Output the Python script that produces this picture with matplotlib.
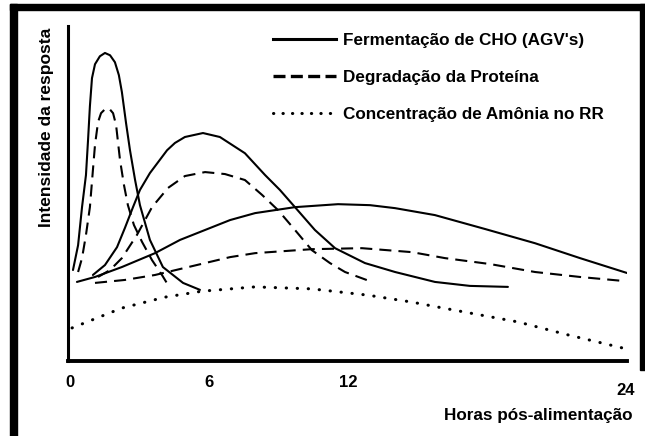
import matplotlib
matplotlib.use('Agg')
import matplotlib.pyplot as plt
import matplotlib.transforms as mtransforms
from matplotlib.lines import Line2D
from matplotlib.patches import Rectangle

plt.rcParams['font.family'] = ['Liberation Sans', 'DejaVu Sans']
plt.rcParams['font.weight'] = 'bold'

# horas pós-alimentação (x) e intensidade relativa (y)
cho_rapido_x = [0.13, 0.35, 0.52, 0.69, 0.78, 0.86, 0.95, 1.08, 1.29, 1.51, 1.73, 1.94,
                2.11, 2.24, 2.42, 2.59, 2.81, 3.02, 3.45, 4.01, 4.88, 5.61]
cho_rapido_y = [27.5, 35.0, 46.5, 56.2, 66.8, 77.0, 85.5, 89.7, 92.1, 93.1, 92.4, 90.3,
                86.4, 81.3, 71.9, 63.7, 54.7, 47.1, 36.6, 28.4, 23.6, 21.5]

prot_rapida_x = [0.35, 0.52, 0.69, 0.86, 0.99, 1.08, 1.21, 1.34, 1.51, 1.68, 1.86, 1.99,
                 2.16, 2.33, 2.50, 2.76, 3.11, 3.54, 3.97, 4.23]
prot_rapida_y = [26.9, 31.1, 38.1, 46.5, 57.7, 65.3, 72.2, 74.9, 76.1, 76.4, 74.9, 71.3,
                 60.7, 53.2, 47.1, 41.1, 36.0, 30.5, 26.0, 23.0]

cho_medio_x = [0.99, 1.51, 2.03, 2.37, 2.72, 3.02, 3.45, 4.19, 4.53, 4.96, 5.74, 6.47,
               7.55, 8.42, 9.06, 9.71, 10.57, 11.44, 12.73, 14.03, 15.75, 17.26, 18.90]
cho_medio_y = [26.0, 29.0, 34.4, 40.2, 46.5, 51.7, 56.8, 63.7, 65.9, 67.7, 68.9, 67.7,
               62.8, 56.2, 51.7, 46.5, 39.6, 34.1, 29.6, 26.9, 23.9, 22.7, 22.4]

prot_media_x = [1.21, 1.73, 2.24, 2.89, 3.54, 4.23, 4.96, 5.83, 6.69, 7.55, 8.29, 8.98,
                9.71, 10.44, 11.22, 11.87, 13.03]
prot_media_y = [25.4, 27.5, 31.1, 38.1, 46.5, 52.3, 55.9, 57.1, 56.5, 54.7, 50.2, 45.6,
                39.6, 33.5, 29.6, 26.9, 23.9]

cho_lento_x = [0.30, 1.08, 2.24, 3.67, 4.75, 5.83, 6.91, 7.99, 9.71, 11.57, 12.95, 14.03,
               15.75, 17.91, 20.07, 22.01, 24.04]
cho_lento_y = [23.9, 25.4, 28.4, 32.6, 36.6, 39.6, 42.6, 44.7, 46.5, 47.4, 47.1, 46.2,
               44.1, 39.9, 35.6, 31.1, 26.6]

prot_lenta_x = [1.08, 2.37, 3.67, 4.75, 5.83, 6.91, 7.99, 10.44, 12.60, 14.76, 16.18,
                18.13, 20.07, 22.01, 23.87]
prot_lenta_y = [23.6, 24.5, 26.0, 27.8, 29.6, 31.4, 32.6, 33.8, 34.1, 32.9, 31.1,
                29.3, 26.9, 25.4, 24.2]

amonia_x = [0.09, 2.24, 4.10, 5.70, 7.98, 10.44, 12.86, 14.76, 15.88, 17.26, 19.34,
            21.49, 23.87]
amonia_y = [10.0, 16.0, 19.3, 21.1, 22.4, 21.8, 19.9, 17.8, 16.3, 14.5, 11.8, 7.9, 3.9]

xticks = [0, 6, 12, 24]
legend_labels = ["Fermentação de CHO (AGV's)", 'Degradação da Proteína',
                 'Concentração de Amônia no RR']

fig = plt.figure(figsize=(6.45, 4.36), dpi=100)
ax = fig.add_axes([0.1054, 0.172, 0.8667, 0.768])

solido = dict(color='black', lw=1.5, solid_capstyle='round', solid_joinstyle='round')
tracejado = dict(color='black', lw=1.5, linestyle=(0, (5.8, 3.4)))
pontilhado = dict(color='black', lw=2.2, linestyle=(0, (0.1, 3.5)), dash_capstyle='round')

ax.plot(cho_rapido_x, cho_rapido_y, **solido)
ax.plot(cho_medio_x, cho_medio_y, **solido)
ax.plot(cho_lento_x, cho_lento_y, **solido)
ax.plot(prot_rapida_x, prot_rapida_y, **tracejado)
ax.plot(prot_media_x, prot_media_y, **tracejado)
ax.plot(prot_lenta_x, prot_lenta_y, **tracejado)
ax.plot(amonia_x, amonia_y, **pontilhado)

ax.set_xlim(-0.086, 24.04)
ax.set_ylim(0, 101.2)
for s in ['top', 'right']:
    ax.spines[s].set_visible(False)
ax.spines['left'].set_linewidth(2.2)
ax.spines['bottom'].set_linewidth(2.8)
ax.set_yticks([])
ax.set_xticks(xticks)
ax.set_xticklabels([str(t) for t in xticks], fontsize=12, fontweight='bold')
ax.tick_params(axis='x', length=0, pad=10)
lab24 = ax.get_xticklabels()[-1]
lab24.set_transform(lab24.get_transform() +
                    mtransforms.ScaledTranslation(0.0, -0.085, fig.dpi_scale_trans))

# legenda
handles = [
    Line2D([], [], color='black', lw=2.2),
    Line2D([], [], color='black', lw=2.4, linestyle=(0, (3.6, 1.6))),
    Line2D([], [], color='black', lw=2.2, linestyle=(0, (0.1, 3.0)), dash_capstyle='round'),
]
fig.legend(handles, legend_labels, loc='upper left',
           bbox_to_anchor=(273 / 645, 1 - 33 / 436), frameon=False,
           prop=dict(size=12.3, weight='bold'), handlelength=3.7, handletextpad=0.4,
           labelspacing=1.3, borderpad=0, borderaxespad=0)

fig.text(47 / 645, 1 - 127 / 436, 'Intensidade da resposta', rotation=90,
         ha='center', va='center', fontsize=12.5, fontweight='bold')
fig.text(632 / 645, 1 - 415 / 436, 'Horas pós-alimentação',
         ha='right', va='center', fontsize=12.3, fontweight='bold')

# moldura preta da figura original
fig.patches.append(Rectangle((10 / 645, 0), 7 / 645, 1 - 4 / 436,
                             transform=fig.transFigure, color='black'))
fig.patches.append(Rectangle((10 / 645, 1 - 10 / 436), 635 / 645, 6 / 436,
                             transform=fig.transFigure, color='black'))
fig.patches.append(Rectangle((640 / 645, 1 - 370 / 436), 5 / 645, 366 / 436,
                             transform=fig.transFigure, color='black'))

fig.savefig('out.png', dpi=100)
